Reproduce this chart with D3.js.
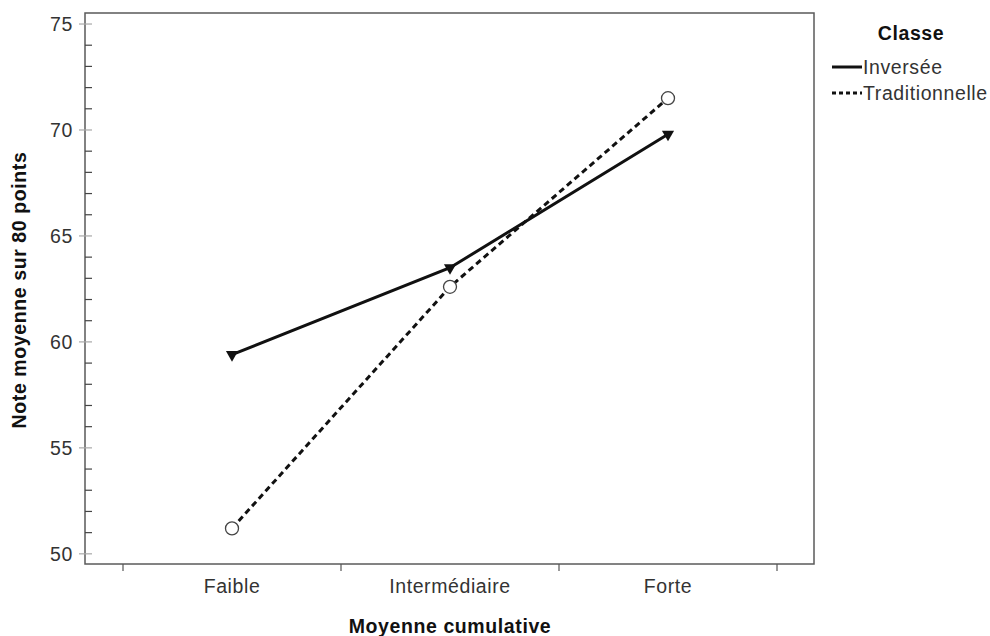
<!DOCTYPE html>
<html>
<head>
<meta charset="utf-8">
<script src="https://cdn.jsdelivr.net/npm/d3@7/dist/d3.min.js"></script>
<style>
  html, body { margin: 0; padding: 0; background: #fff; }
  svg { display: block; font-family: "Liberation Sans", Arial, sans-serif; }
  text { letter-spacing: 0.6px; }
</style>
</head>
<body>
<svg id="chart" width="990" height="636"></svg>
<script>
// Mean score (out of 80) by cumulative average group, for each class type
const categories = ["Faible", "Intermédiaire", "Forte"];
const seriesNames = ["Inversée", "Traditionnelle"];
const inverseeValues = [59.4, 63.5, 69.8];
const traditionnelleValues = [51.2, 62.6, 71.5];
const yMajorTicks = [50, 55, 60, 65, 70, 75];
const yMinorTicks = d3.range(50, 76).filter(v => v % 5 !== 0);

const svg = d3.select("#chart");
const frame = { left: 85, top: 13, right: 814, bottom: 564 };
const labelSize = 19.5;
const titleSize = 19.5;

const y = d3.scaleLinear().domain([49.52, 75.52]).range([frame.bottom, frame.top]);
const xBand = d3.scaleBand().domain(categories).range([123, 777]).paddingInner(0).paddingOuter(0);
const x = d3.scalePoint().domain(categories).range([123, 777]).padding(0.5);

// plot frame
svg.append("rect")
  .attr("x", frame.left).attr("y", frame.top)
  .attr("width", frame.right - frame.left).attr("height", frame.bottom - frame.top)
  .attr("fill", "none").attr("stroke", "#5a5a5a").attr("stroke-width", 1.5);

// y axis: major ticks (crossing) and minor ticks (inside)
const yAxisG = svg.append("g");
yAxisG.selectAll("line.major").data(yMajorTicks).join("line")
  .attr("class", "major")
  .attr("x1", frame.left - 6).attr("x2", frame.left + 7)
  .attr("y1", d => y(d)).attr("y2", d => y(d))
  .attr("stroke", "#a8a8a8").attr("stroke-width", 1.2);
yAxisG.selectAll("line.minor").data(yMinorTicks).join("line")
  .attr("class", "minor")
  .attr("x1", frame.left).attr("x2", frame.left + 7)
  .attr("y1", d => y(d)).attr("y2", d => y(d))
  .attr("stroke", "#444").attr("stroke-width", 1.2);
yAxisG.selectAll("text").data(yMajorTicks).join("text")
  .attr("x", frame.left - 12).attr("y", d => y(d)).attr("dy", "0.36em")
  .attr("text-anchor", "end").attr("font-size", labelSize).attr("fill", "#333")
  .text(d => d);

// x axis: ticks at band edges, labels at band centres
const xEdges = categories.map(c => xBand(c)).concat([xBand.range()[1]]);
svg.append("g").selectAll("line").data(xEdges).join("line")
  .attr("x1", d => d).attr("x2", d => d)
  .attr("y1", frame.bottom).attr("y2", frame.bottom + 7)
  .attr("stroke", "#555").attr("stroke-width", 1.2);
svg.append("g").selectAll("text").data(categories).join("text")
  .attr("x", d => x(d)).attr("y", 593)
  .attr("text-anchor", "middle").attr("font-size", labelSize).attr("fill", "#333")
  .text(d => d);

// axis titles
svg.append("text")
  .attr("x", 450).attr("y", 633)
  .attr("text-anchor", "middle").attr("font-size", titleSize).attr("font-weight", "bold").attr("fill", "#111")
  .text("Moyenne cumulative");
svg.append("text")
  .attr("transform", "translate(26,290) rotate(-90)")
  .attr("text-anchor", "middle").attr("font-size", titleSize).attr("font-weight", "bold").attr("fill", "#111")
  .text("Note moyenne sur 80 points");

const line = d3.line().x((d, i) => x(categories[i])).y(d => y(d));

// Traditionnelle: dashed line with open circles
svg.append("path").datum(traditionnelleValues)
  .attr("d", line).attr("fill", "none")
  .attr("stroke", "#111").attr("stroke-width", 3).attr("stroke-dasharray", "6,4");
svg.append("g").selectAll("circle").data(traditionnelleValues).join("circle")
  .attr("cx", (d, i) => x(categories[i])).attr("cy", d => y(d)).attr("r", 6.5)
  .attr("fill", "#fff").attr("stroke", "#444").attr("stroke-width", 1.3);

// Inversée: solid line with filled downward triangles
svg.append("path").datum(inverseeValues)
  .attr("d", line).attr("fill", "none")
  .attr("stroke", "#111").attr("stroke-width", 3);
const tri = d3.symbol().type(d3.symbolTriangle).size(64);
svg.append("g").selectAll("path").data(inverseeValues).join("path")
  .attr("transform", (d, i) => `translate(${x(categories[i])},${y(d)}) rotate(180)`)
  .attr("d", tri).attr("fill", "#111");

// legend
const lg = svg.append("g");
lg.append("text").attr("x", 911).attr("y", 40).attr("text-anchor", "middle")
  .attr("font-size", titleSize).attr("font-weight", "bold").attr("fill", "#111").text("Classe");
const legendStyles = [null, "4,3"];
seriesNames.forEach((name, i) => {
  const ly = 67 + i * 26;
  lg.append("line").attr("x1", 832).attr("x2", 862).attr("y1", ly).attr("y2", ly)
    .attr("stroke", "#111").attr("stroke-width", 3)
    .attr("stroke-dasharray", legendStyles[i]);
  lg.append("text").attr("x", 863).attr("y", ly).attr("dy", "0.36em")
    .attr("font-size", labelSize).attr("fill", "#333").text(name);
});
</script>
</body>
</html>
